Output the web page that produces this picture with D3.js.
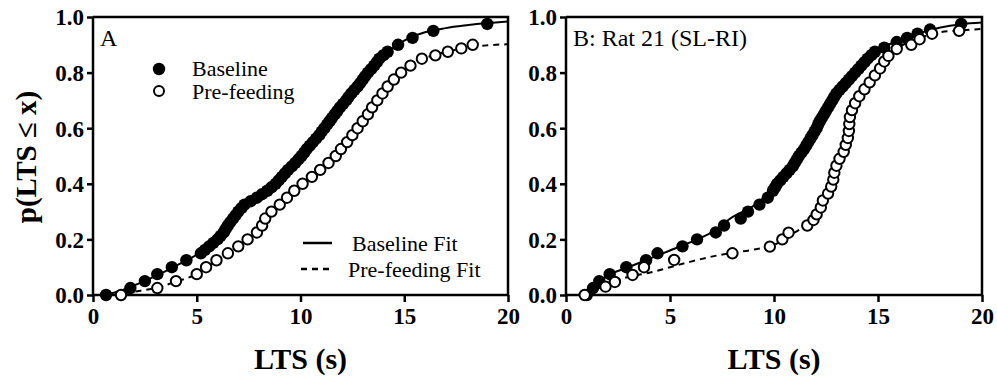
<!DOCTYPE html>
<html>
<head>
<meta charset="utf-8">
<script src="https://cdn.jsdelivr.net/npm/d3@7"></script>
<style>
  body { margin: 0; background: #fff; }
  svg { display: block; }
</style>
</head>
<body>
<div id="chart"></div>
<script>
// Cumulative LTS distributions, [LTS (s), p(LTS <= x)]
const xTicks = [0, 5, 10, 15, 20];
const yTicks = [0, 0.2, 0.4, 0.6, 0.8, 1.0];

const baselineA = [
  [0.63, 0], [1.8, 0.025], [2.5, 0.05], [3.1, 0.075], [3.8, 0.1], [4.5, 0.125],
  [5.2, 0.15], [5.4, 0.1625], [5.6, 0.175], [5.8, 0.1875], [6.0, 0.2], [6.15, 0.2125],
  [6.3, 0.225], [6.4, 0.2375], [6.5, 0.25], [6.62, 0.2625], [6.75, 0.275], [6.88, 0.2875],
  [7.0, 0.3], [7.15, 0.3125], [7.3, 0.325], [7.6, 0.3375], [7.9, 0.35], [8.15, 0.3625],
  [8.4, 0.375], [8.6, 0.3875], [8.8, 0.4], [8.95, 0.4125], [9.1, 0.425], [9.25, 0.4375],
  [9.4, 0.45], [9.58, 0.4625], [9.75, 0.475], [9.9, 0.4875], [10.05, 0.5], [10.18, 0.5125],
  [10.3, 0.525], [10.45, 0.5375], [10.6, 0.55], [10.75, 0.5625], [10.9, 0.575], [11.02, 0.5875],
  [11.15, 0.6], [11.28, 0.6125], [11.4, 0.625], [11.52, 0.6375], [11.65, 0.65], [11.78, 0.6625],
  [11.9, 0.675], [12.05, 0.6875], [12.2, 0.7], [12.32, 0.7125], [12.45, 0.725], [12.6, 0.7375],
  [12.75, 0.75], [12.88, 0.7625], [13.0, 0.775], [13.12, 0.7875], [13.25, 0.8], [13.4, 0.8125],
  [13.55, 0.825], [13.68, 0.8375], [13.8, 0.85], [14.0, 0.8625], [14.2, 0.875],
  [14.7, 0.9], [15.4, 0.925], [16.4, 0.95], [19.0, 0.975]
];

const prefeedA = [
  [1.35, 0], [3.1, 0.025], [4.0, 0.05], [5.0, 0.075], [5.45, 0.1], [5.95, 0.125],
  [6.5, 0.15], [7.0, 0.175], [7.45, 0.2], [7.9, 0.225], [8.15, 0.25], [8.3, 0.275],
  [8.6, 0.3], [9.0, 0.325], [9.35, 0.35], [9.7, 0.375], [10.1, 0.4], [10.55, 0.425],
  [10.95, 0.45], [11.35, 0.475], [11.7, 0.5], [11.95, 0.525], [12.25, 0.55], [12.5, 0.575],
  [12.75, 0.6], [13.0, 0.625], [13.25, 0.65], [13.45, 0.675], [13.7, 0.7], [13.95, 0.725],
  [14.2, 0.75], [14.5, 0.775], [14.85, 0.8], [15.3, 0.825], [15.85, 0.85], [16.5, 0.862],
  [17.1, 0.875], [17.75, 0.887], [18.3, 0.9]
];

const baselineB = [
  [1.0, 0], [1.3, 0.025], [1.6, 0.05], [2.1, 0.075], [2.9, 0.1], [3.85, 0.125],
  [4.4, 0.15], [5.6, 0.175], [6.3, 0.2], [7.2, 0.225], [7.6, 0.25], [8.4, 0.275],
  [8.75, 0.3], [9.3, 0.325], [9.7, 0.35], [9.95, 0.375], [10.05, 0.3875], [10.15, 0.4],
  [10.3, 0.4125], [10.45, 0.425], [10.6, 0.4375], [10.75, 0.45], [10.9, 0.4625], [11.0, 0.475],
  [11.1, 0.4875], [11.2, 0.5], [11.32, 0.5125], [11.45, 0.525], [11.55, 0.5375], [11.65, 0.55],
  [11.75, 0.5625], [11.85, 0.575], [11.95, 0.5875], [12.05, 0.6], [12.12, 0.6125], [12.2, 0.625],
  [12.3, 0.6375], [12.4, 0.65], [12.5, 0.6625], [12.6, 0.675], [12.7, 0.6875], [12.8, 0.7],
  [12.9, 0.7125], [13.0, 0.725], [13.15, 0.7375], [13.3, 0.75], [13.45, 0.7625], [13.6, 0.775],
  [13.75, 0.7875], [13.9, 0.8], [14.05, 0.8125], [14.2, 0.825], [14.35, 0.8375], [14.5, 0.85],
  [14.68, 0.8625], [14.85, 0.875], [15.3, 0.89], [15.9, 0.91], [16.4, 0.925], [16.9, 0.94],
  [17.5, 0.955], [19.0, 0.975]
];

const prefeedB = [
  [0.9, 0], [1.9, 0.03], [2.35, 0.047], [3.2, 0.072], [3.75, 0.1], [5.2, 0.126],
  [8.0, 0.15], [9.8, 0.174], [10.4, 0.2], [10.7, 0.224], [11.6, 0.25], [11.9, 0.27],
  [12.05, 0.29], [12.25, 0.315], [12.35, 0.34], [12.6, 0.365], [12.75, 0.39], [12.85, 0.415],
  [12.9, 0.44], [13.0, 0.465], [13.15, 0.49], [13.35, 0.515], [13.45, 0.54], [13.55, 0.565],
  [13.6, 0.59], [13.62, 0.615], [13.65, 0.64], [13.75, 0.665], [13.9, 0.69], [14.1, 0.715],
  [14.35, 0.74], [14.6, 0.765], [14.85, 0.79], [15.1, 0.815], [15.3, 0.84], [15.5, 0.86],
  [15.9, 0.885], [16.6, 0.9], [17.0, 0.92], [17.6, 0.94], [18.9, 0.95]
];

// fitted curves
const baselineFitA = [
  [0.5, 0], [1, 0.008], [2, 0.035], [3, 0.068], [4, 0.105], [5, 0.145], [6, 0.2],
  [7, 0.3], [8, 0.36], [9, 0.42], [10, 0.5], [11, 0.6], [12, 0.69], [13, 0.775],
  [14, 0.86], [15, 0.915], [16, 0.945], [17, 0.96], [18, 0.97], [19, 0.978], [20, 0.984]
];
const prefeedFitA = [
  [1, 0], [2, 0.012], [3, 0.025], [4, 0.048], [5, 0.075], [6, 0.125], [7, 0.175],
  [8, 0.235], [9, 0.325], [10, 0.395], [11, 0.455], [12, 0.53], [13, 0.625], [14, 0.73],
  [15, 0.81], [16, 0.852], [17, 0.874], [18, 0.89], [19, 0.898], [20, 0.902]
];
const baselineFitB = [
  [0.9, 0], [1.5, 0.045], [2, 0.07], [3, 0.1], [4, 0.13], [5, 0.16], [6, 0.19],
  [7, 0.225], [8, 0.28], [9, 0.32], [10, 0.385], [11, 0.475], [12, 0.6], [13, 0.725],
  [14, 0.81], [15, 0.88], [16, 0.915], [17, 0.942], [18, 0.962], [19, 0.974], [20, 0.98]
];
const prefeedFitB = [
  [0.9, 0], [1.5, 0.022], [2, 0.04], [3, 0.065], [4, 0.08], [5, 0.1], [6, 0.12],
  [7, 0.138], [8, 0.152], [9, 0.163], [10, 0.18], [10.5, 0.2], [11, 0.225], [11.5, 0.25],
  [12, 0.29], [12.5, 0.36], [13, 0.46], [13.5, 0.56], [14, 0.7], [14.5, 0.765], [15, 0.815],
  [16, 0.89], [17, 0.925], [18, 0.945], [19, 0.952], [20, 0.957]
];

const CONFIG = {
  width: 997,
  height: 377,
  top: 17,
  bottom: 295,
  font: '"Liberation Serif", "Times New Roman", serif',
  radius: 5.6
};

const svg = d3.select('#chart')
  .append('svg')
  .attr('width', CONFIG.width)
  .attr('height', CONFIG.height);

function drawPanel(opts) {
  const x = d3.scaleLinear().domain([0, 20]).range([opts.left, opts.right]);
  const y = d3.scaleLinear().domain([0, 1]).range([CONFIG.bottom, CONFIG.top]);
  const g = svg.append('g');

  // frame (top and right)
  g.append('path')
    .attr('d', `M${opts.left},${CONFIG.top}H${opts.right}V${CONFIG.bottom}`)
    .attr('fill', 'none')
    .attr('stroke', '#000')
    .attr('stroke-width', 2.5);

  const xAxis = g.append('g')
    .attr('transform', `translate(0,${CONFIG.bottom})`)
    .call(d3.axisBottom(x).tickValues(xTicks).tickSize(7).tickPadding(5).tickFormat(d3.format('d')));
  const yAxis = g.append('g')
    .attr('transform', `translate(${opts.left},0)`)
    .call(d3.axisLeft(y).tickValues(yTicks).tickSize(6).tickPadding(3).tickFormat(d3.format('.1f')));

  [xAxis, yAxis].forEach(a => {
    a.select('.domain').attr('stroke-width', 2.5).attr('d', a === xAxis
      ? `M${opts.left},0H${opts.right}` : `M0,${CONFIG.bottom}V${CONFIG.top}`);
    a.selectAll('.tick line').attr('stroke-width', 2.5);
    a.selectAll('.tick text')
      .style('font-family', CONFIG.font)
      .style('font-weight', 'bold')
      .style('font-size', '23px')
      .attr('fill', '#000');
  });
  xAxis.selectAll('.tick text').attr('dy', '0.72em');
  yAxis.selectAll('.tick text').attr('dy', '0.34em');

  // x title
  g.append('text')
    .attr('x', (opts.left + opts.right) / 2)
    .attr('y', 369)
    .attr('text-anchor', 'middle')
    .style('font-family', CONFIG.font)
    .style('font-weight', 'bold')
    .style('font-size', '30px')
    .text('LTS (s)');

  // fitted lines
  const line = d3.line()
    .x(d => x(d[0]))
    .y(d => y(d[1]))
    .curve(d3.curveMonotoneX);

  g.append('path')
    .datum(opts.baseFit)
    .attr('d', line)
    .attr('fill', 'none')
    .attr('stroke', '#000')
    .attr('stroke-width', 2);

  g.append('path')
    .datum(opts.preFit)
    .attr('d', line)
    .attr('fill', 'none')
    .attr('stroke', '#000')
    .attr('stroke-width', 2)
    .attr('stroke-dasharray', '6,5');

  // data points
  g.append('g').selectAll('circle')
    .data(opts.base)
    .join('circle')
    .attr('cx', d => x(d[0]))
    .attr('cy', d => y(d[1]))
    .attr('r', CONFIG.radius + 0.6)
    .attr('fill', '#000');

  g.append('g').selectAll('circle')
    .data(opts.pre)
    .join('circle')
    .attr('cx', d => x(d[0]))
    .attr('cy', d => y(d[1]))
    .attr('r', CONFIG.radius - 0.4)
    .attr('fill', '#fff')
    .attr('stroke', '#000')
    .attr('stroke-width', 2);

  // panel label
  g.append('text')
    .attr('x', opts.left + 7)
    .attr('y', 46)
    .style('font-family', CONFIG.font)
    .style('font-size', '24px')
    .text(opts.label);

  return { x, y, g };
}

const panelA = drawPanel({
  left: 93, right: 508, label: 'A',
  base: baselineA, pre: prefeedA, baseFit: baselineFitA, preFit: prefeedFitA
});
drawPanel({
  left: 566, right: 982, label: 'B: Rat 21 (SL-RI)',
  base: baselineB, pre: prefeedB, baseFit: baselineFitB, preFit: prefeedFitB
});

// y title
svg.append('text')
  .attr('transform', 'translate(36,157) rotate(-90)')
  .attr('text-anchor', 'middle')
  .style('font-family', CONFIG.font)
  .style('font-weight', 'bold')
  .style('font-size', '29px')
  .text('p(LTS \u2264 x)');

// legends in panel A
const legend = panelA.g.append('g').style('font-family', CONFIG.font).style('font-size', '22px');
legend.append('circle').attr('cx', 159).attr('cy', 69).attr('r', CONFIG.radius + 0.6).attr('fill', '#000');
legend.append('circle').attr('cx', 159).attr('cy', 91).attr('r', CONFIG.radius - 0.6)
  .attr('fill', '#fff').attr('stroke', '#000').attr('stroke-width', 2);
legend.append('text').attr('x', 192).attr('y', 76).text('Baseline');
legend.append('text').attr('x', 192).attr('y', 99).text('Pre-feeding');

legend.append('line').attr('x1', 303).attr('x2', 332).attr('y1', 243).attr('y2', 243)
  .attr('stroke', '#000').attr('stroke-width', 2.5);
legend.append('line').attr('x1', 301).attr('x2', 333).attr('y1', 269).attr('y2', 269)
  .attr('stroke', '#000').attr('stroke-width', 2.5).attr('stroke-dasharray', '6,5');
legend.append('text').attr('x', 352).attr('y', 251).text('Baseline Fit');
legend.append('text').attr('x', 348).attr('y', 277).text('Pre-feeding Fit');
</script>
</body>
</html>
